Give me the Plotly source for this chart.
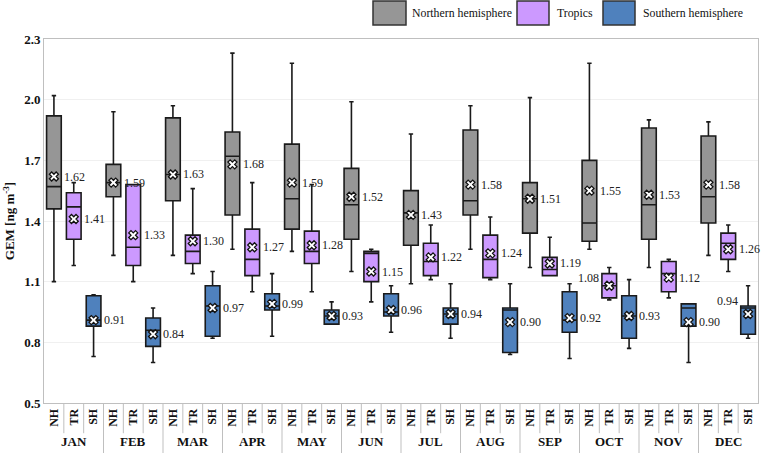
import plotly.graph_objects as go

months = ['JAN','FEB','MAR','APR','MAY','JUN','JUL','AUG','SEP','OCT','NOV','DEC']
subcats = ['NH','TR','SH']

nh_lo  = [1.10,1.23,1.23,1.26,1.25,1.15,1.09,1.26,1.17,1.26,1.17,1.23]
nh_q1  = [1.46,1.52,1.50,1.43,1.36,1.31,1.28,1.43,1.34,1.30,1.31,1.39]
nh_med = [1.57,1.59,1.63,1.72,1.51,1.48,1.44,1.50,1.51,1.39,1.48,1.52]
nh_q3  = [1.92,1.68,1.91,1.84,1.78,1.66,1.55,1.85,1.59,1.70,1.86,1.82]
nh_hi  = [2.02,1.94,1.97,2.23,2.18,1.99,1.83,1.97,2.01,2.18,1.90,1.89]
nh_mean= [1.62,1.59,1.63,1.68,1.59,1.52,1.43,1.58,1.51,1.55,1.53,1.58]

tr_lo  = [1.18,1.10,1.14,1.05,1.05,1.00,1.11,1.11,1.13,1.01,1.02,1.15]
tr_q1  = [1.31,1.18,1.19,1.13,1.19,1.10,1.13,1.12,1.13,1.02,1.05,1.21]
tr_med = [1.47,1.27,1.25,1.21,1.25,1.24,1.20,1.21,1.16,1.08,1.14,1.29]
tr_q3  = [1.54,1.58,1.33,1.36,1.35,1.25,1.29,1.33,1.22,1.14,1.20,1.34]
tr_hi  = [1.59,1.58,1.56,1.59,1.58,1.26,1.38,1.42,1.32,1.17,1.21,1.38]
tr_mean= [1.41,1.33,1.30,1.27,1.28,1.15,1.22,1.24,1.19,1.08,1.12,1.26]

sh_lo  = [0.73,0.70,0.82,0.83,0.89,0.85,0.82,0.74,0.72,0.77,0.70,0.82]
sh_q1  = [0.88,0.78,0.83,0.96,0.89,0.93,0.89,0.75,0.85,0.82,0.88,0.84]
sh_med = [0.91,0.86,0.98,0.98,0.93,0.95,0.94,0.96,0.91,0.93,0.97,0.97]
sh_q3  = [1.03,0.92,1.08,1.04,0.96,1.04,0.97,0.97,1.05,1.03,0.99,0.98]
sh_hi  = [1.035,0.97,1.15,1.14,1.00,1.08,1.09,1.09,1.09,1.11,0.99,1.08]
sh_mean= [0.91,0.84,0.97,0.99,0.93,0.96,0.94,0.90,0.92,0.93,0.90,0.94]

y_ticks = [0.5,0.8,1.1,1.4,1.7,2.0,2.3]

groups = [
    ('Northern hemisphere', '#969696', nh_lo, nh_q1, nh_med, nh_q3, nh_hi, nh_mean),
    ('Tropics', '#CC99FF', tr_lo, tr_q1, tr_med, tr_q3, tr_hi, tr_mean),
    ('Southern hemisphere', '#4F81BD', sh_lo, sh_q1, sh_med, sh_q3, sh_hi, sh_mean),
]

SERIF = 'Liberation Serif'
fig = go.Figure()
annotations = []
shapes = []

for gi, (name, col, lo, q1, med, q3, hi, mean) in enumerate(groups):
    xs = [m * 3 + gi for m in range(12)]
    fig.add_trace(go.Box(
        x=xs, q1=q1, median=med, q3=q3, lowerfence=lo, upperfence=hi,
        fillcolor=col, line=dict(color='#1a1a1a', width=1.6),
        width=0.74, whiskerwidth=0.3, boxpoints=False, showlegend=False,
        name=name, hoverinfo='skip'))
    fig.add_trace(go.Scatter(
        x=xs, y=mean, mode='markers', showlegend=False,
        marker=dict(symbol='x', size=8, color='white',
                    line=dict(color='#111111', width=1.3)),
        hoverinfo='skip'))
    for m in range(12):
        x = m * 3 + gi
        txt = f'{mean[m]:.2f}'
        if gi == 1 and m == 9:
            annotations.append(dict(x=x - 0.4, y=mean[m] + 0.04, xref='x', yref='y',
                                    text=txt, showarrow=False, xanchor='right',
                                    font=dict(family=SERIF, size=12, color='#222')))
        elif gi == 2 and m == 11:
            annotations.append(dict(x=x - 0.4, y=mean[m] + 0.065, xref='x', yref='y',
                                    text=txt, showarrow=False, xanchor='right',
                                    font=dict(family=SERIF, size=12, color='#222')))
        else:
            annotations.append(dict(x=x + 0.42, y=mean[m], xref='x', yref='y',
                                    text=txt, showarrow=False, xanchor='left',
                                    font=dict(family=SERIF, size=12, color='#222')))

# month labels and dividers
for m, mon in enumerate(months):
    annotations.append(dict(x=m * 3 + 1, y=-0.105, xref='x', yref='paper',
                            text=f'<b>{mon}</b>', showarrow=False, yanchor='middle',
                            font=dict(family=SERIF, size=13, color='#111')))
for k in range(1, 36):
    xb = k - 0.5
    y1 = -0.14 if k % 3 == 0 else -0.083
    shapes.append(dict(type='line', xref='x', yref='paper', x0=xb, x1=xb,
                       y0=0, y1=y1, line=dict(color='#BFBFBF', width=1)))

# custom legend
W, H, L, T = 714.0, 364.0, 44.0, 39.0
def px(x):
    return (x - L) / W
def py(y):
    return 1 + (T - y) / H
leg = [(373, 406, 410, 'Northern hemisphere', '#969696'),
       (517, 549, 555, 'Tropics', '#CC99FF'),
       (603, 635, 641, 'Southern hemisphere', '#4F81BD')]
for x0, x1, tx, label, col in leg:
    shapes.append(dict(type='rect', xref='paper', yref='paper',
                       x0=px(x0), x1=px(x1), y0=py(25), y1=py(1),
                       fillcolor=col, line=dict(color='#333333', width=1.5)))
    annotations.append(dict(x=px(tx), y=py(13), xref='paper', yref='paper',
                            text=label, showarrow=False, xanchor='left', yanchor='middle',
                            font=dict(family=SERIF, size=11.8, color='#111')))

fig.update_layout(
    width=762, height=453,
    margin=dict(l=44, r=4, t=39, b=50),
    plot_bgcolor='white', paper_bgcolor='white',
    annotations=annotations, shapes=shapes,
    xaxis=dict(range=[-0.5, 35.5], tickmode='array',
               tickvals=list(range(36)),
               ticktext=[f'<b>{subcats[i % 3]}</b>' for i in range(36)],
               tickangle=-90, showgrid=False, zeroline=False,
               showline=True, linecolor='#BFBFBF', mirror=True,
               ticks='', tickfont=dict(family=SERIF, size=12, color='#111')),
    yaxis=dict(range=[0.5, 2.3], tickmode='array', tickvals=y_ticks,
               ticktext=[f'<b>{v:.1f}</b>' for v in y_ticks],
               showgrid=True, gridcolor='#F0F0F0', zeroline=False,
               showline=True, linecolor='#BFBFBF', mirror=True, ticks='',
               tickfont=dict(family=SERIF, size=13, color='#111'),
               title=dict(text='<b>GEM [ng m<sup>-3</sup>]</b>', standoff=6,
                          font=dict(family=SERIF, size=13, color='#111'))),
)

fig.write_html('out.html', config={'displayModeBar': False},
               post_script="document.body.style.margin='0';document.body.style.overflow='hidden';")
